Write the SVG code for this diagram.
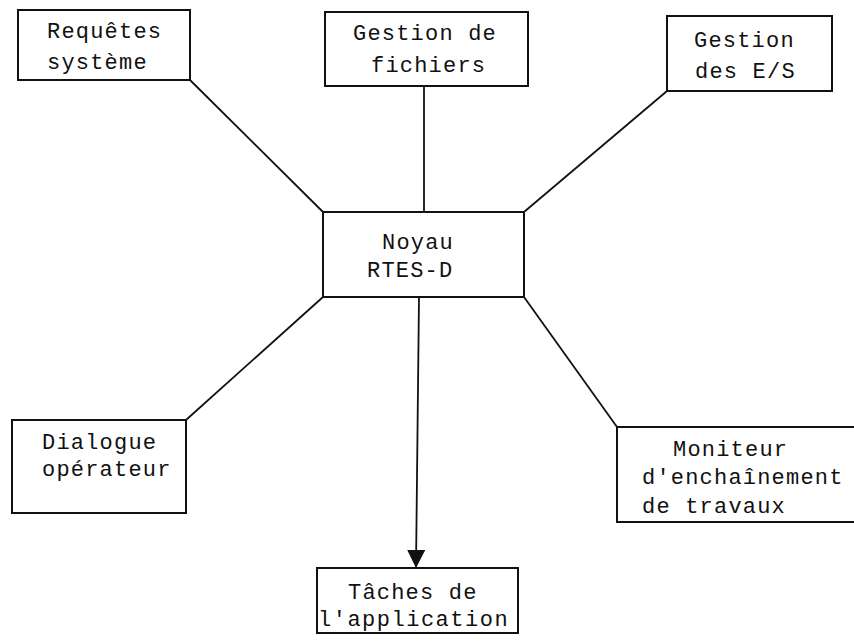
<svg xmlns="http://www.w3.org/2000/svg" width="854" height="643" viewBox="0 0 854 643">
<style>
.box{fill:#fff;stroke:#111;stroke-width:2}
.lbl{font-family:"Liberation Mono","DejaVu Sans Mono",monospace;font-size:22px;letter-spacing:1.2px;fill:#111}
.conn{stroke:#111;stroke-width:1.8;fill:none}
</style>
<defs>
<marker id="arr" markerUnits="userSpaceOnUse" markerWidth="20" markerHeight="22" refX="18" refY="9" orient="auto">
<path d="M0,0 L18,9 L0,18 Z" fill="#111"/>
</marker>
</defs>
<rect width="854" height="643" fill="#fff"/>
<g id="connectors">
<line class="conn" x1="190" y1="80" x2="323" y2="212"/>
<line class="conn" x1="424" y1="86" x2="424" y2="212"/>
<line class="conn" x1="667" y1="91" x2="524" y2="212"/>
<line class="conn" x1="323" y1="297" x2="186" y2="420"/>
<line class="conn" x1="524" y1="297" x2="617" y2="427"/>
<line class="conn" x1="419" y1="297" x2="416" y2="568" marker-end="url(#arr)"/>
</g>
<g id="requetes">
<rect class="box" x="18" y="10" width="172" height="70"/>
<text class="lbl" x="47" y="38">Requêtes</text>
<text class="lbl" x="47" y="69">système</text>
</g>
<g id="fichiers">
<rect class="box" x="325" y="12" width="203" height="74"/>
<text class="lbl" x="353" y="40">Gestion de</text>
<text class="lbl" x="371" y="72">fichiers</text>
</g>
<g id="es">
<rect class="box" x="667" y="16" width="165" height="75"/>
<text class="lbl" x="694" y="47">Gestion</text>
<text class="lbl" x="695" y="78">des E/S</text>
</g>
<g id="noyau">
<rect class="box" x="323" y="212" width="201" height="85"/>
<text class="lbl" x="382" y="249">Noyau</text>
<text class="lbl" x="367" y="277">RTES-D</text>
</g>
<g id="dialogue">
<rect class="box" x="12" y="420" width="174" height="93"/>
<text class="lbl" x="42" y="449">Dialogue</text>
<text class="lbl" x="42" y="476">opérateur</text>
</g>
<g id="moniteur">
<rect class="box" x="617" y="427" width="250" height="95"/>
<text class="lbl" x="673" y="456">Moniteur</text>
<text class="lbl" x="642" y="484">d'enchaînement</text>
<text class="lbl" x="642" y="513">de travaux</text>
</g>
<g id="taches">
<rect class="box" x="317" y="568" width="201" height="65"/>
<text class="lbl" x="348" y="599">Tâches de</text>
<text class="lbl" x="318" y="626" style="letter-spacing:1.5px">l'application</text>
</g>
</svg>
